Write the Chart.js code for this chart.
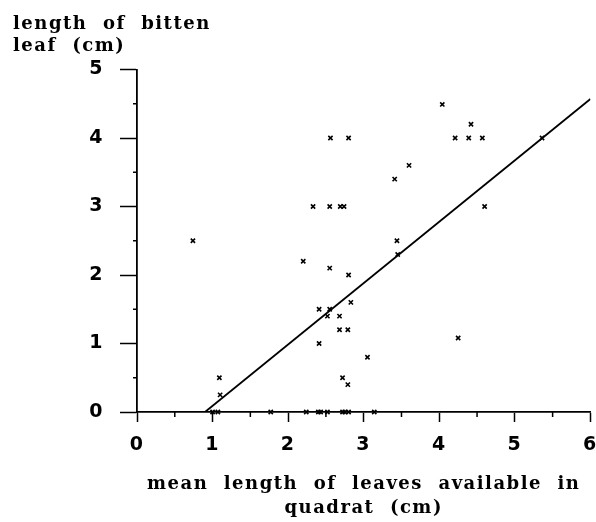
<!DOCTYPE html>
<html>
<head>
<meta charset="utf-8">
<script src="https://cdn.jsdelivr.net/npm/chart.js@4.4.1/dist/chart.umd.min.js"></script>
<style>
  html, body { margin: 0; padding: 0; background: #fff; }
  #wrap { width: 596px; height: 522px; }
</style>
</head>
<body>
<div id="wrap"><canvas id="c" width="596" height="522"></canvas></div>
<script>
// mean leaf length in quadrat (cm) vs length of bitten leaf (cm)
const leafX = [2.56, 2.80, 2.33, 2.55, 2.69, 2.74, 0.74, 4.04, 4.42, 4.21, 4.39, 4.57, 5.36,
  3.60, 3.41, 4.60, 3.44, 3.45, 2.20, 2.55, 2.80, 2.83, 2.41, 2.55, 2.52, 2.68, 2.68, 2.79,
  2.41, 3.05, 1.09, 1.10, 2.72, 2.79, 4.25,
  1.00, 1.07, 1.77, 2.24, 2.40, 2.43, 2.52, 2.72, 2.75, 2.80, 3.14];
const bittenY = [4.0, 4.0, 3.0, 3.0, 3.0, 3.0, 2.5, 4.49, 4.2, 4.0, 4.0, 4.0, 4.0,
  3.6, 3.4, 3.0, 2.5, 2.3, 2.2, 2.1, 2.0, 1.6, 1.5, 1.5, 1.4, 1.4, 1.2, 1.2,
  1.0, 0.8, 0.5, 0.25, 0.5, 0.4, 1.08,
  0, 0, 0, 0, 0, 0, 0, 0, 0, 0, 0];
// fitted line, end points
const fitX = [0.9, 6.0];
const fitY = [0, 4.57];

const yTitle = ['length  of  bitten', 'leaf  (cm)'];
const xTitle = ['mean  length  of  leaves  available  in', 'quadrat  (cm)'];

const serif = "'DejaVu Serif', serif";
const tickFont = { family: "'DejaVu Sans', sans-serif", size: 19, weight: 'bold' };

const isWhole = v => Number.isInteger(v);

// wider lettering like the typed original
const spacing = {
  id: 'spacing',
  beforeDraw(chart) { chart.ctx.letterSpacing = '1.5px'; }
};

// short ticks at the half units
const halfTicks = {
  id: 'halfTicks',
  afterDraw(chart) {
    const ctx = chart.ctx;
    const xs = chart.scales.x, ys = chart.scales.y;
    ctx.save();
    ctx.strokeStyle = '#000';
    ctx.lineWidth = 1.5;
    ctx.beginPath();
    xs.ticks.forEach(t => {
      if (isWhole(t.value)) return;
      const px = xs.getPixelForValue(t.value);
      ctx.moveTo(px, ys.bottom);
      ctx.lineTo(px, ys.bottom + 5);
    });
    ys.ticks.forEach(t => {
      if (isWhole(t.value)) return;
      const py = ys.getPixelForValue(t.value);
      ctx.moveTo(xs.left, py);
      ctx.lineTo(xs.left - 4, py);
    });
    ctx.stroke();
    ctx.restore();
  }
};

new Chart(document.getElementById('c'), {
  type: 'scatter',
  data: {
    datasets: [
      {
        data: leafX.map((x, i) => ({ x: x, y: bittenY[i] })),
        pointStyle: 'crossRot',
        pointRadius: 3,
        borderColor: '#000',
        borderWidth: 1.6,
        clip: false
      },
      {
        type: 'line',
        data: fitX.map((x, i) => ({ x: x, y: fitY[i] })),
        borderColor: '#000',
        borderWidth: 1.8,
        pointRadius: 0,
        fill: false
      }
    ]
  },
  options: {
    responsive: false,
    animation: false,
    layout: { padding: { left: 13, right: 4, top: 0, bottom: 0 } },
    plugins: {
      legend: { display: false },
      tooltip: { enabled: false },
      title: {
        display: true,
        text: yTitle,
        align: 'start',
        color: '#000',
        font: { family: serif, size: 18, weight: 'bold', lineHeight: '22px' },
        padding: { top: 13, bottom: 12.5 }
      }
    },
    scales: {
      x: {
        type: 'linear',
        min: 0, max: 6,
        afterFit(s) { s.height = 110; s.paddingLeft = 0; s.paddingRight = 0; },
        border: { display: true, color: '#000', width: 1.8 },
        grid: {
          drawOnChartArea: false,
          tickLength: 10,
          tickWidth: 1.5,
          tickColor: ctx => isWhole(ctx.tick.value) ? '#000' : 'rgba(0,0,0,0)'
        },
        ticks: {
          stepSize: 0.5, autoSkip: false, maxRotation: 0,
          color: '#000', font: tickFont, padding: 12,
          callback: v => isWhole(v) ? v : ''
        },
        title: {
          display: true, text: xTitle, color: '#000',
          font: { family: serif, size: 18, weight: 'bold', lineHeight: '24px' },
          padding: { top: 0, bottom: 2 }
        }
      },
      y: {
        type: 'linear',
        min: 0, max: 5,
        afterFit(s) { s.width = 124; s.paddingTop = 0; s.paddingBottom = 0; },
        border: { display: true, color: '#000', width: 1.8 },
        grid: {
          drawOnChartArea: false,
          tickLength: 17,
          tickWidth: 1.5,
          tickColor: ctx => isWhole(ctx.tick.value) ? '#000' : 'rgba(0,0,0,0)'
        },
        ticks: {
          stepSize: 0.5, autoSkip: false,
          color: '#000', font: tickFont, padding: 16,
          callback: v => isWhole(v) ? v : ''
        }
      }
    }
  },
  plugins: [spacing, halfTicks]
});
</script>
</body>
</html>
